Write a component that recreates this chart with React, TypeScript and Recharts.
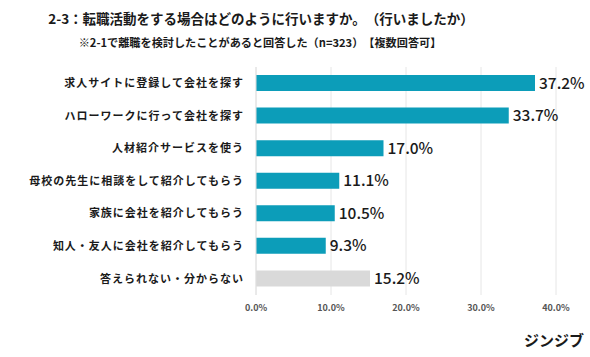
import React from 'react';
import { BarChart, Bar, XAxis, YAxis, CartesianGrid, Cell, LabelList } from 'recharts';

const categories = [
  '求人サイトに登録して会社を探す',
  'ハローワークに行って会社を探す',
  '人材紹介サービスを使う',
  '母校の先生に相談をして紹介してもらう',
  '家族に会社を紹介してもらう',
  '知人・友人に会社を紹介してもらう',
  '答えられない・分からない',
];
const values = [37.2, 33.7, 17.0, 11.1, 10.5, 9.3, 15.2];
const barColors = ['#0c9db9', '#0c9db9', '#0c9db9', '#0c9db9', '#0c9db9', '#0c9db9', '#d9d9d9'];
const xTicks = [0, 10, 20, 30, 40];

const title = '2-3：転職活動をする場合はどのように行いますか。（行いましたか）';
const subtitle = '※2-1で離職を検討したことがあると回答した（n=323）【複数回答可】';
const brand = 'ジンジブ';

const data = categories.map((c, i) => ({ name: c, value: values[i], color: barColors[i] }));

const FONT = '"Noto Sans CJK JP", "Noto Sans", sans-serif';

export default function App() {
  return (
    <div style={{ position: 'absolute', left: 0, top: 0, width: 590, height: 357, background: '#fff', fontFamily: FONT }}>
      <div style={{ position: 'absolute', left: -8, width: 538, top: 8, textAlign: 'center', fontSize: 13.5, fontWeight: 700, color: '#1a1a1a', lineHeight: '20px', textSpacingTrim: 'space-all' } as any}>
        {title}
      </div>
      <div style={{ position: 'absolute', left: -3, width: 526, top: 33, textAlign: 'center', fontSize: 11.15, fontWeight: 700, color: '#1a1a1a', lineHeight: '18px', textSpacingTrim: 'space-all' } as any}>
        {subtitle}
      </div>
      <BarChart
        width={590}
        height={357}
        data={data}
        layout="vertical"
        margin={{ top: 67, right: 34, bottom: 42, left: 0 }}
        barCategoryGap="25%"
        style={{ position: 'absolute', left: 0, top: 0 }}
      >
        <CartesianGrid horizontal={false} vertical={true} stroke="#e6e6e6" />
        <XAxis
          type="number"
          domain={[0, 40]}
          ticks={xTicks}
          tickFormatter={(v: number) => v.toFixed(1) + '%'}
          axisLine={false}
          tickLine={false}
          height={20}
          tickMargin={4}
          tick={{ fontSize: 9, fontWeight: 700, fill: '#555', fontFamily: FONT }}
        />
        <YAxis
          type="category"
          dataKey="name"
          width={256}
          axisLine={{ stroke: '#e0e0e0' }}
          tickLine={false}
          tickMargin={6}
          interval={0}
          tick={{ fontSize: 11, fontWeight: 700, fill: '#1a1a1a', fontFamily: FONT, letterSpacing: 1 }}
        />
        <Bar dataKey="value" isAnimationActive={false} barSize={16}>
          {data.map((d, i) => (
            <Cell key={i} fill={d.color} />
          ))}
          <LabelList
            dataKey="value"
            position="right"
            offset={4}
            formatter={(v: number) => v.toFixed(1) + '%'}
            style={{ fontSize: 15.5, fontWeight: 500, fill: '#1a1a1a', fontFamily: FONT }}
          />
        </Bar>
      </BarChart>
      <div style={{ position: 'absolute', left: 524, top: 330, fontSize: 15, fontWeight: 700, color: '#1a1a1a', lineHeight: '20px' }}>
        {brand}
      </div>
    </div>
  );
}
